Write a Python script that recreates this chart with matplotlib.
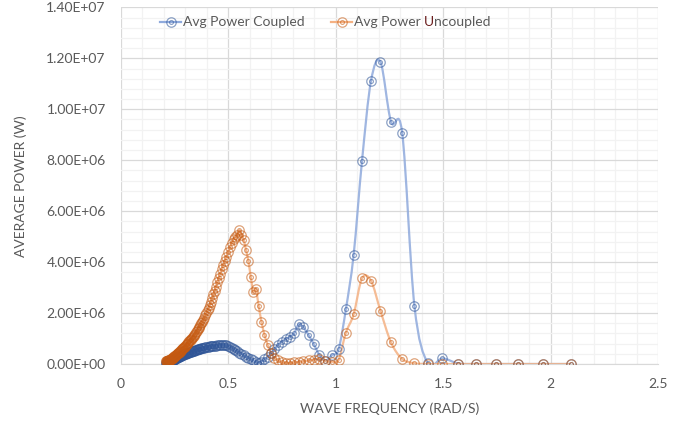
import matplotlib
matplotlib.use("Agg")
import matplotlib.pyplot as plt
import numpy as np
from matplotlib.lines import Line2D
from matplotlib.patches import PathPatch
from matplotlib.path import Path
from matplotlib.ticker import FuncFormatter, MultipleLocator

# wave frequency (rad/s), shared by both series
FREQ = [0.209, 0.211, 0.212, 0.214, 0.215, 0.217, 0.218, 0.220, 0.221, 0.223,
        0.224, 0.226, 0.228, 0.229, 0.231, 0.233, 0.234, 0.236, 0.238, 0.240,
        0.242, 0.244, 0.245, 0.247, 0.249, 0.251, 0.253, 0.255, 0.258, 0.260,
        0.262, 0.264, 0.266, 0.269, 0.271, 0.273, 0.276, 0.278, 0.280, 0.283,
        0.286, 0.288, 0.291, 0.294, 0.296, 0.299, 0.302, 0.305, 0.308, 0.311,
        0.314, 0.317, 0.321, 0.324, 0.327, 0.331, 0.334, 0.338, 0.341, 0.345,
        0.349, 0.353, 0.357, 0.361, 0.365, 0.370, 0.374, 0.378, 0.383, 0.388,
        0.393, 0.398, 0.403, 0.408, 0.413, 0.419, 0.425, 0.430, 0.436, 0.442,
        0.449, 0.455, 0.462, 0.469, 0.476, 0.483, 0.491, 0.499, 0.507, 0.515,
        0.524, 0.532, 0.542, 0.551, 0.561, 0.571, 0.582, 0.593, 0.604, 0.616,
        0.628, 0.641, 0.654, 0.668, 0.683, 0.698, 0.714, 0.731, 0.748, 0.766,
        0.785, 0.806, 0.827, 0.849, 0.873, 0.898, 0.924, 0.952, 0.982, 1.013,
        1.047, 1.083, 1.122, 1.164, 1.208, 1.257, 1.309, 1.366, 1.428, 1.496,
        1.571, 1.653, 1.745, 1.848, 1.963, 2.094]

# average power, MW
COUPLED = [0.03, 0.035, 0.04, 0.045, 0.05, 0.055, 0.06, 0.065, 0.07, 0.075,
           0.08, 0.09, 0.10, 0.105, 0.11, 0.115, 0.12, 0.13, 0.14, 0.15,
           0.16, 0.165, 0.17, 0.18, 0.19, 0.20, 0.21, 0.22, 0.23, 0.24,
           0.25, 0.26, 0.27, 0.28, 0.29, 0.30, 0.31, 0.32, 0.33, 0.34,
           0.35, 0.36, 0.37, 0.38, 0.39, 0.40, 0.41, 0.42, 0.43, 0.44,
           0.45, 0.46, 0.47, 0.48, 0.49, 0.50, 0.51, 0.52, 0.53, 0.54,
           0.55, 0.56, 0.57, 0.58, 0.59, 0.60, 0.61, 0.62, 0.63, 0.64,
           0.65, 0.66, 0.67, 0.68, 0.69, 0.695, 0.70, 0.71, 0.72, 0.725,
           0.73, 0.735, 0.74, 0.745, 0.75, 0.745, 0.73, 0.71, 0.68, 0.64,
           0.60, 0.55, 0.50, 0.45, 0.40, 0.34, 0.28, 0.23, 0.19, 0.14,
           0.08, 0.05, 0.09, 0.20, 0.27, 0.42, 0.58, 0.75, 0.88, 0.97,
           1.07, 1.20, 1.56, 1.44, 1.14, 0.77, 0.35, 0.13, 0.35, 0.58,
           2.15, 4.28, 7.97, 11.12, 11.86, 9.51, 9.08, 2.29, 0.03, 0.22,
           0.02, 0.00, 0.00, 0.00, 0.00, 0.00]

UNCOUPLED = [0.10, 0.105, 0.11, 0.115, 0.12, 0.125, 0.13, 0.135, 0.14, 0.145,
             0.15, 0.16, 0.17, 0.175, 0.18, 0.19, 0.20, 0.21, 0.22, 0.235,
             0.25, 0.26, 0.27, 0.285, 0.30, 0.315, 0.33, 0.35, 0.37, 0.385,
             0.40, 0.415, 0.43, 0.45, 0.47, 0.49, 0.51, 0.53, 0.55, 0.575,
             0.60, 0.62, 0.64, 0.66, 0.68, 0.71, 0.74, 0.77, 0.80, 0.83,
             0.86, 0.89, 0.93, 0.96, 0.99, 1.02, 1.05, 1.10, 1.14, 1.19,
             1.24, 1.30, 1.36, 1.41, 1.47, 1.54, 1.60, 1.66, 1.73, 1.82,
             1.92, 2.01, 2.11, 2.21, 2.31, 2.45, 2.60, 2.73, 2.88, 3.04,
             3.22, 3.38, 3.55, 3.73, 3.90, 4.05, 4.22, 4.40, 4.58, 4.75,
             4.90, 5.00, 5.05, 5.26, 5.06, 4.87, 4.48, 4.04, 3.43, 2.84,
             2.94, 2.28, 1.66, 1.14, 0.75, 0.44, 0.25, 0.14, 0.06, 0.05,
             0.03, 0.06, 0.08, 0.10, 0.14, 0.17, 0.20, 0.12, 0.09, 0.16,
             1.23, 1.95, 3.36, 3.27, 2.09, 0.85, 0.20, 0.03, 0.00, 0.00,
             0.00, 0.00, 0.00, 0.00, 0.00, 0.00]

TEXT = "#595959"
BLUE = "#2F5597"
BLUE_LINE = "#8FAADC"
ORANGE = "#C55A11"
ORANGE_LINE = "#F4B183"

plt.rcParams["font.family"] = ["Lato", "DejaVu Sans"]
plt.rcParams["font.size"] = 10


def smooth_path(x, y):
    """Excel-like smoothed line: cubic Bezier through every point."""
    pts = np.column_stack([x, y])
    n = len(pts)
    verts, codes = [pts[0]], [Path.MOVETO]
    for i in range(n - 1):
        p0 = pts[i - 1] if i > 0 else pts[i]
        p1, p2 = pts[i], pts[i + 1]
        p3 = pts[i + 2] if i + 2 < n else pts[i + 1]
        verts += [p1 + (p2 - p0) / 6, p2 - (p3 - p1) / 6, p2]
        codes += [Path.CURVE4] * 3
    return Path(verts, codes)


def draw_series(ax, x, y, mcol, lcol):
    ax.add_patch(PathPatch(smooth_path(x, y), fc="none", ec=lcol,
                           lw=1.6, alpha=0.85, zorder=2))
    ax.plot(x, y, ls="none", marker="o", ms=6.8, mfc="none", mec=mcol,
            mew=0.9, alpha=0.55, zorder=3)
    ax.plot(x, y, ls="none", marker="o", ms=2.8, mfc="none", mec=mcol,
            mew=0.8, alpha=0.55, zorder=3)


fig = plt.figure(figsize=(6.89, 4.25), dpi=100)
ax = fig.add_axes([0.1756, 0.1435, 0.7794, 0.8391])

freq = np.array(FREQ)
draw_series(ax, freq, np.array(COUPLED) * 1e6, BLUE, BLUE_LINE)
draw_series(ax, freq, np.array(UNCOUPLED) * 1e6, ORANGE, ORANGE_LINE)

ax.set_xlim(0, 2.5)
ax.set_ylim(0, 1.4e7)
ax.xaxis.set_major_locator(MultipleLocator(0.5))
ax.xaxis.set_minor_locator(MultipleLocator(0.1))
ax.yaxis.set_major_locator(MultipleLocator(2e6))
ax.yaxis.set_minor_locator(MultipleLocator(4e5))
ax.xaxis.set_major_formatter(FuncFormatter(lambda v, _: f"{v:g}"))
ax.yaxis.set_major_formatter(FuncFormatter(lambda v, _: f"{v:.2E}"))
ax.grid(which="major", color="#D9D9D9", lw=0.9, zorder=0)
ax.grid(which="minor", color="#F2F2F2", lw=0.9, zorder=0)
ax.set_axisbelow(True)
for name, sp in ax.spines.items():
    sp.set_visible(name == "bottom")
ax.spines["bottom"].set_color("#D9D9D9")
ax.tick_params(which="both", length=0, colors=TEXT, labelsize=10)
ax.tick_params(axis="x", pad=10)
ax.tick_params(axis="y", pad=11)

ax.set_xlabel("WAVE FREQUENCY (RAD/S)", color=TEXT, fontsize=10, labelpad=9)
ax.set_ylabel("AVERAGE POWER (W)", color=TEXT, fontsize=10, labelpad=14)

# legend drawn by hand so one letter can keep its odd colour
ly = 1 - 21.5 / 425
for x0, col, lcol in [(160, BLUE, BLUE_LINE), (331, ORANGE, ORANGE_LINE)]:
    fig.add_artist(Line2D([x0 / 689, (x0 + 21) / 689], [ly, ly],
                          transform=fig.transFigure, color=lcol, lw=1.6))
    for ms, mw in [(6.8, 0.9), (2.8, 0.8)]:
        fig.add_artist(Line2D([(x0 + 10.5) / 689], [ly], transform=fig.transFigure,
                              ls="none", marker="o", ms=ms, mfc="none",
                              mec=col, mew=mw, alpha=0.55))
fig.text(183 / 689, ly, "Avg Power Coupled", color=TEXT, va="center", fontsize=10)
t1 = fig.text(354 / 689, ly, "Avg Power ", color=TEXT, va="center", fontsize=10)
t2 = ax.annotate("U", xy=(1, 0), xycoords=t1, va="bottom", color="#6B1E1E",
                 fontsize=10, annotation_clip=False)
ax.annotate("ncoupled", xy=(1, 0), xycoords=t2, va="bottom", color=TEXT,
            fontsize=10, annotation_clip=False)

fig.savefig("out.png", dpi=100, facecolor="white")
